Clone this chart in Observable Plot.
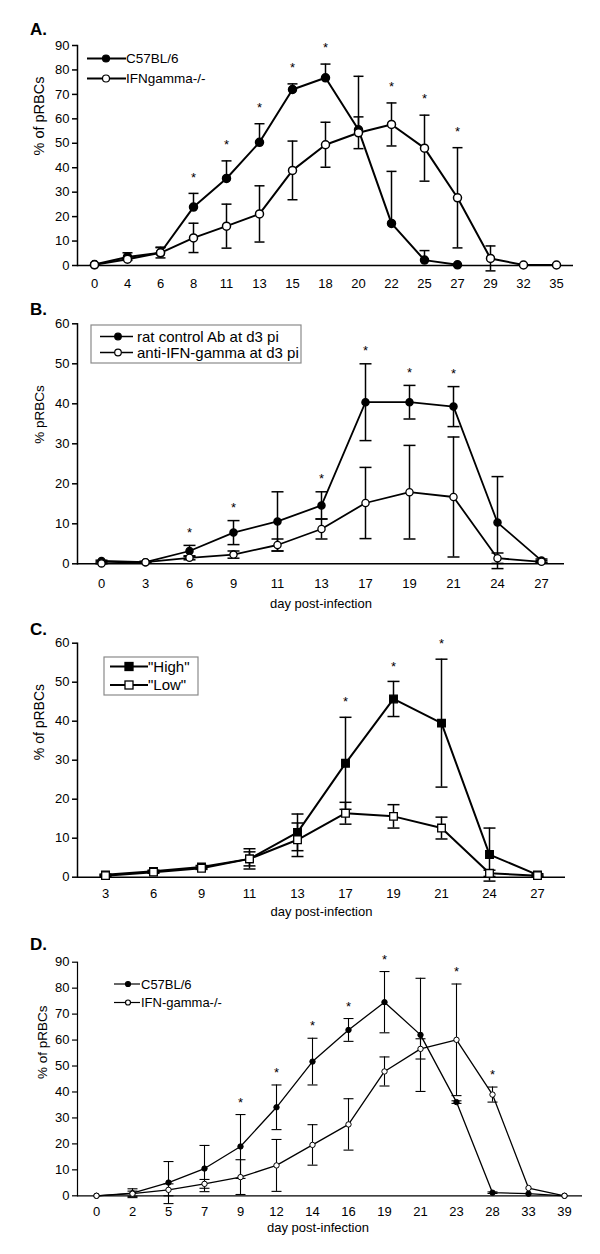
<!DOCTYPE html>
<html><head><meta charset="utf-8">
<script src="https://cdn.jsdelivr.net/npm/d3@7"></script>
<script src="https://cdn.jsdelivr.net/npm/@observablehq/plot@0.6"></script>
<style>
body{margin:0;background:#fff;font-family:"Liberation Sans",Arial,sans-serif;}
#wrap{position:relative;width:600px;height:1254px;overflow:hidden;background:#fff}
.panel{position:absolute;left:0}
#overlay{position:absolute;left:0;top:0;pointer-events:none}
</style></head><body><div id="wrap"></div>
<script>
// ---------- Panel A ----------
const daysA = [0,4,6,8,11,13,15,18,20,22,25,27,29,32,35];
const aC57 = [0.4,3.5,5.2,23.9,35.6,50.4,72,76.8,55.5,17.2,2.2,0.3,null,null,null];
const aC57Err = [0,1.7,2.3,5.6,7.2,7.6,2.3,5.6,21.9,21.3,3.9,0,0,0,0];
const aIfn = [0.3,2.6,5.2,11.3,16.1,21.1,38.9,49.4,54.3,57.7,48.0,27.7,2.9,0.2,0.2];
const aIfnErr = [0,0.5,2.1,6,9,11.5,12,9.2,6.5,8.8,13.5,20.5,5.1,0,0];
const starsA = [8,11,13,15,18,22,25,27];

// ---------- Panel B ----------
const daysB = [0,3,6,9,11,13,17,19,21,24,27];
const bRat = [0.7,0.4,3.2,7.8,10.6,14.6,40.4,40.4,39.3,10.3,0.8];
const bRatErr = [0.2,0.2,1.4,3,7.4,3.4,9.6,4.2,5,11.5,0.4];
const bAnti = [0.1,0.4,1.5,2.3,4.7,8.7,15.2,17.9,16.7,1.4,0.5];
const bAntiErr = [0.1,0.2,0.5,0.9,1.5,2.5,8.9,11.7,15,1.3,0.3];
const starsB = [6,9,13,17,19,21];

// ---------- Panel C ----------
const daysC = [3,6,9,11,13,17,19,21,24,27];
const cHigh = [0.6,1.5,2.6,4.7,11.5,29.2,45.7,39.5,5.8,0.6];
const cHighErr = [0.2,0.3,0.4,2.6,4.7,11.8,4.5,16.4,6.8,0.3];
const cLow = [0.4,1.3,2.3,4.7,9.6,16.4,15.6,12.6,1.0,0.4];
const cLowErr = [0.2,0.3,0.3,1.8,4.3,2.8,3,2.8,0.8,0.2];
const starsC = [17,19,21];

// ---------- Panel D ----------
const daysD = [0,2,5,7,9,12,14,16,19,21,23,28,33,39];
const dC57 = [0,1.0,5.1,10.5,19,34.1,51.7,63.9,74.6,62,36.1,1.2,0.8,0];
const dC57Err = [0,1.7,8.1,8.9,12.3,8.6,9,4.4,11.8,21.8,0.5,0.3,0,0];
const dIfn = [0,0.8,2.3,4.6,7.2,11.7,19.6,27.5,47.9,56.6,60.1,39,3,0];
const dIfnErr = [0,1,2.3,1.7,6.7,10,7.8,9.9,5.6,3.9,21.5,2.9,0,0];
const starsD = [9,12,14,16,19,23,28];

const FONT = '"Liberation Sans", Arial, Helvetica, sans-serif';
const wrap = document.getElementById("wrap");

// horizontal cap symbol for error bars
const capSymbol = half => ({draw(ctx) { ctx.moveTo(-half, 0); ctx.lineTo(half, 0); }});

function makePanel(cfg) {
  const rowsOf = s => cfg.days.map((d, i) => ({day: String(d), v: s.values[i], e: s.err[i]})).filter(r => r.v != null);
  const marks = [];
  marks.push(Plot.ruleY([0], {strokeWidth: cfg.axisW}));
  marks.push(Plot.frame({anchor: "left", strokeWidth: cfg.axisW}));
  const tops = {};
  const cap = capSymbol(cfg.cap);
  for (const s of cfg.series) {
    const rows = rowsOf(s);
    const er = rows.filter(r => r.e > 0);
    rows.forEach(r => { tops[r.day] = Math.max(tops[r.day] ?? -Infinity, r.v + r.e); });
    marks.push(Plot.ruleX(er, {x: "day", y1: r => s.upOnly ? r.v : r.v - r.e, y2: r => r.v + r.e, strokeWidth: cfg.errW}));
    marks.push(Plot.dot(er, {x: "day", y: r => r.v + r.e, symbol: cap, stroke: "black", fill: "none", strokeWidth: cfg.errW}));
    if (!s.upOnly) marks.push(Plot.dot(er, {x: "day", y: r => r.v - r.e, symbol: cap, stroke: "black", fill: "none", strokeWidth: cfg.errW}));
  }
  for (const s of cfg.series) {
    marks.push(Plot.line(rowsOf(s), {x: "day", y: "v", strokeWidth: cfg.lineW, stroke: "black"}));
  }
  for (const s of cfg.series) {
    marks.push(Plot.dot(rowsOf(s), {x: "day", y: "v", r: cfg.r, symbol: s.symbol, fill: s.filled ? "black" : "white", stroke: "black", strokeWidth: cfg.dotW}));
  }
  const starRows = cfg.stars.map(d => ({day: String(d), top: tops[String(d)]}));
  marks.push(Plot.text(starRows, {x: "day", y: "top", text: () => "*", dy: -cfg.starDy, fontSize: 13}));
  marks.push(Plot.axisY({ticks: d3.range(0, cfg.yMax + 1, 10), tickSize: 5, tickPadding: 3, label: null, strokeWidth: cfg.axisW, fontSize: 13}));
  marks.push(Plot.axisX({tickSize: 0, tickPadding: cfg.tickPad, label: null, fontSize: 13}));
  marks.push(Plot.text([cfg.yLabel], {frameAnchor: "left", rotate: -90, dx: -cfg.yLabelDx, fontSize: cfg.yLabelSize}));
  if (cfg.xLabel) marks.push(Plot.text([cfg.xLabel], {frameAnchor: "bottom", dy: cfg.xLabelDy, dx: cfg.xLabelDx || 0, fontSize: 13}));
  const svg = Plot.plot({
    width: 600, height: cfg.height,
    marginTop: cfg.mt, marginBottom: cfg.mb, marginLeft: 77, marginRight: cfg.mr,
    style: {fontFamily: FONT, fontSize: "13px", background: "none", color: "black", overflow: "visible"},
    x: {type: "point", domain: cfg.days.map(String), padding: 0.5},
    y: {domain: [0, cfg.yMax]},
    marks
  });
  const div = document.createElement("div");
  div.className = "panel";
  div.style.top = cfg.top + "px";
  div.appendChild(svg);
  wrap.appendChild(div);
}

makePanel({top: 0, height: 295, mt: 45, mb: 30, mr: 27, days: daysA, yMax: 90,
  series: [{values: aC57, err: aC57Err, upOnly: true, filled: true, symbol: "circle"},
           {values: aIfn, err: aIfnErr, upOnly: false, filled: false, symbol: "circle"}],
  stars: starsA, starDy: 16, yLabel: "% of pRBCs", yLabelDx: 38, yLabelSize: 14.5,
  tickPad: 13, lineW: 2, errW: 1.5, axisW: 1.5, dotW: 1.5, r: 4, cap: 5});

makePanel({top: 295, height: 320, mt: 28.3, mb: 51.7, mr: 36, days: daysB, yMax: 60,
  series: [{values: bRat, err: bRatErr, filled: true, symbol: "circle"},
           {values: bAnti, err: bAntiErr, filled: false, symbol: "circle"}],
  stars: starsB, starDy: 13, yLabel: "% pRBCs", yLabelDx: 38, yLabelSize: 13.5,
  xLabel: "day post-infection", xLabelDy: 44,
  tickPad: 14.5, lineW: 1.8, errW: 1.5, axisW: 1.5, dotW: 1.3, r: 3.6, cap: 6});

makePanel({top: 615, height: 310, mt: 27.7, mb: 48.3, mr: 35, days: daysC, yMax: 60,
  series: [{values: cHigh, err: cHighErr, filled: true, symbol: "square"},
           {values: cLow, err: cLowErr, filled: false, symbol: "square"}],
  stars: starsC, starDy: 15, yLabel: "% of pRBCs", yLabelDx: 38, yLabelSize: 14,
  xLabel: "day post-infection", xLabelDy: 38.5,
  tickPad: 11.5, lineW: 2, errW: 1.5, axisW: 1.5, dotW: 1.3, r: 4.3, cap: 6});

makePanel({top: 925, height: 329, mt: 36.7, mb: 58.7, mr: 18, days: daysD, yMax: 90,
  series: [{values: dC57, err: dC57Err, filled: true, symbol: "circle"},
           {values: dIfn, err: dIfnErr, filled: false, symbol: "circle"}],
  stars: starsD, starDy: 12, yLabel: "% of pRBCs", yLabelDx: 35, yLabelSize: 13.5,
  xLabel: "day post-infection", xLabelDy: 36.5, xLabelDx: -12,
  tickPad: 10.5, lineW: 1.3, errW: 1.1, axisW: 1.2, dotW: 1, r: 2.7, cap: 5});

// ---------- Panel letters and legends (overlay) ----------
const panelLetters = ["A.", "B.", "C.", "D."];
const letterBaselines = [35, 315, 635, 950];
const legendA = ["C57BL/6", "IFNgamma-/-"];
const legendB = ["rat control Ab at d3 pi", "anti-IFN-gamma at d3 pi"];
const legendC = ['"High"', '"Low"'];
const legendD = ["C57BL/6", "IFN-gamma-/-"];

const ov = d3.select(wrap).append("svg").attr("id", "overlay").attr("width", 600).attr("height", 1254)
  .style("font-family", FONT);
panelLetters.forEach((t, i) => ov.append("text").attr("x", 30).attr("y", letterBaselines[i])
  .attr("font-size", 17).attr("font-weight", "bold").text(t));

function legend(labels, o) {
  if (o.box) ov.append("rect").attr("x", o.box[0]).attr("y", o.box[1]).attr("width", o.box[2]).attr("height", o.box[3])
    .attr("fill", "white").attr("stroke", "#8a8a8a").attr("stroke-width", 1.2);
  labels.forEach((t, i) => {
    const y = o.ys[i];
    ov.append("line").attr("x1", o.x1).attr("x2", o.x2).attr("y1", y).attr("y2", y).attr("stroke", "black").attr("stroke-width", o.lw);
    const fill = i === 0 ? "black" : "white";
    if (o.square) ov.append("rect").attr("x", o.mx - o.r).attr("y", y - o.r).attr("width", 2 * o.r).attr("height", 2 * o.r)
      .attr("fill", fill).attr("stroke", "black").attr("stroke-width", 1.3);
    else ov.append("circle").attr("cx", o.mx).attr("cy", y).attr("r", o.r).attr("fill", fill).attr("stroke", "black").attr("stroke-width", 1.2);
    ov.append("text").attr("x", o.tx).attr("y", y).attr("dy", "0.35em").attr("font-size", o.fs).text(t);
  });
}
legend(legendA, {x1: 87, x2: 126, mx: 106, tx: 126, ys: [58.5, 78.5], r: 3.5, lw: 2, fs: 13.5});
legend(legendB, {box: [91, 325, 210, 38], x1: 100, x2: 133, mx: 118, tx: 137, ys: [336.5, 352.5], r: 3.3, lw: 1.6, fs: 15});
legend(legendC, {box: [104, 657, 94, 38], x1: 110, x2: 148, mx: 129, tx: 148, ys: [666.5, 685], r: 4, lw: 1.8, fs: 15, square: true});
legend(legendD, {x1: 114, x2: 140, mx: 128, tx: 141, ys: [984, 1002.5], r: 2.5, lw: 1.2, fs: 13});
</script></body></html>
